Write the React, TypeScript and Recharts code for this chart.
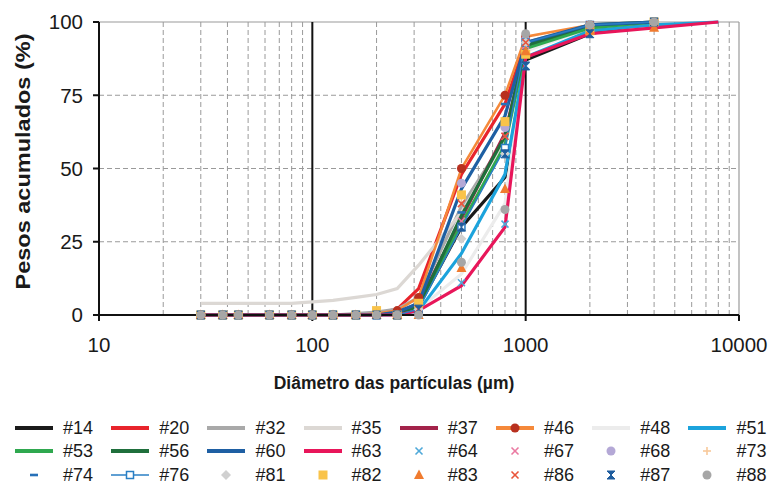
import React from 'react';
import { LineChart, Line, XAxis, YAxis, ReferenceLine, Legend, Label } from 'recharts';

const FONT = '"Liberation Sans", Arial, sans-serif';

// particle sizes (µm)
const sizes = [30, 38, 45, 63, 80, 100, 125, 160, 200, 250, 315, 500, 800, 1000, 2000, 4000, 8000];
const xTicks = [10, 100, 1000, 10000];
const yTicks = [0, 25, 50, 75, 100];
const minorX = [20, 30, 40, 50, 60, 70, 80, 90, 200, 300, 400, 500, 600, 700, 800, 900, 2000, 3000, 4000, 5000, 6000, 7000, 8000, 9000];
const majorX = [100, 1000];
const minorY = [25, 50, 75];

// cumulative weights (%) per sample
const s14 = [0, 0, 0, 0, 0, 0, 0, 0, 0, 0.5, 3, 30, 47, 87, 96, 100, null];
const s20 = [0, 0, 0, 0, 0, 0, 0, 0, 0.5, 2, 9, 48, 72, 93, 98, 100, null];
const s32 = [0, 0, 0, 0, 0, 0, 0, 0.5, 1, 2, 6, 37, 60, 93, 99, 100, null];
const s35 = [4, 4, 4, 4, 4, 4.5, 5, 6, 7, 9, 17, 35, 60, 92, 99, 100, null];
const s37 = [0, 0, 0, 0, 0, 0, 0, 0, 0, 0.5, 4, 33, 62, 91, 98, 100, null];
const s46 = [0, 0, 0, 0, 0, 0, 0, 0, 0.5, 1.5, 6, 50, 75, 95, 99, 100, null];
const s48 = [0, 0, 0, 0, 0, 0, 0, 0, 0, 0, 2, 14, 38, 90, 98, 100, null];
const s51 = [0, 0, 0, 0, 0, 0, 0, 0, 0, 0, 1.5, 21, 48, 88, 97, 99, 100];
const s53 = [0, 0, 0, 0, 0, 0, 0, 0, 0, 0.5, 3, 31, 58, 91, 98, 100, null];
const s56 = [0, 0, 0, 0, 0, 0, 0, 0, 0, 0.5, 3, 34, 61, 92, 99, 100, null];
const s60 = [0, 0, 0, 0, 0, 0, 0, 0, 0, 1, 4, 43, 68, 93, 99, 100, null];
const s63 = [0, 0, 0, 0, 0, 0, 0, 0, 0, 0, 1.5, 10, 30, 88, 96, 98, 100];
const s64 = [0, 0, 0, 0, 0, 0, 0, 0, 0, 0, 0, 11, 31, 85, 97, 100, null];
const s67 = [0, 0, 0, 0, 0, 0, 0, 0, 0, 0, 2, 32, 61, 92, 98, 100, null];
const s68 = [0, 0, 0, 0, 0, 0, 0, 0, 0, 0, 3, 45, 64, 94, 99, 100, null];
const s73 = [0, 0, 0, 0, 0, 0, 0, 0, 0, 0, 3, 40, 66, 90, 98, 100, null];
const s74 = [0, 0, 0, 0, 0, 0, 0, 0, 0, 0, 3, 35, 72, 93, 99, 100, null];
const s76 = [0, 0, 0, 0, 0, 0, 0, 0, 0, 0, 2, 30, 57, 93, 99, 100, null];
const s81 = [0, 0, 0, 0, 0, 0, 0, 0, 0, 0, 2, 26, 55, 93, 99, 100, null];
const s82 = [0, 0, 0, 0, 0, 0, 0, 0, 1.5, 0, 4, 41, 66, 89, 97, 100, null];
const s83 = [0, 0, 0, 0, 0, 0, 0, 0, 0, 0, 0, 16, 43, 90, 97, 98, null];
const s86 = [0, 0, 0, 0, 0, 0, 0, 0, 0, 0, 2, 38, 61, 93, 99, 100, null];
const s87 = [0, 0, 0, 0, 0, 0, 0, 0, 0, 0, 2, 30, 55, 85, 96, 100, null];
const s88 = [0, 0, 0, 0, 0, 0, 0, 0, 0, 0, 0, 18, 36, 96, 99, 100, null];

type Shape = 'none' | 'circle' | 'x' | 'plus' | 'dash' | 'square' | 'squareOpen' | 'diamond' | 'triangle' | 'hourglass';

interface SeriesDef {
  key: string;
  name: string;
  values: (number | null)[];
  color: string;
  line: boolean;
  width: number;
  shape: Shape;
  markerColor?: string;
}

const series: SeriesDef[] = [
  { key: 's14', name: '#14', values: s14, color: '#1a1a1a', line: true, width: 3.2, shape: 'none' },
  { key: 's20', name: '#20', values: s20, color: '#e8242c', line: true, width: 3.2, shape: 'none' },
  { key: 's32', name: '#32', values: s32, color: '#a9a9a9', line: true, width: 3.2, shape: 'none' },
  { key: 's35', name: '#35', values: s35, color: '#dcd8d4', line: true, width: 3.2, shape: 'none' },
  { key: 's37', name: '#37', values: s37, color: '#a3234a', line: true, width: 3.2, shape: 'none' },
  { key: 's46', name: '#46', values: s46, color: '#f5893a', line: true, width: 2.5, shape: 'circle', markerColor: '#b8301f' },
  { key: 's48', name: '#48', values: s48, color: '#ececec', line: true, width: 3.2, shape: 'none' },
  { key: 's51', name: '#51', values: s51, color: '#1ca3dc', line: true, width: 3.2, shape: 'none' },
  { key: 's53', name: '#53', values: s53, color: '#2fa84f', line: true, width: 3.2, shape: 'none' },
  { key: 's56', name: '#56', values: s56, color: '#1f6f3c', line: true, width: 3.2, shape: 'none' },
  { key: 's60', name: '#60', values: s60, color: '#1e5fa3', line: true, width: 3.2, shape: 'none' },
  { key: 's63', name: '#63', values: s63, color: '#e8165a', line: true, width: 3.2, shape: 'none' },
  { key: 's64', name: '#64', values: s64, color: '#4fa9d9', line: false, width: 0, shape: 'x' },
  { key: 's67', name: '#67', values: s67, color: '#ea7aa2', line: false, width: 0, shape: 'x' },
  { key: 's68', name: '#68', values: s68, color: '#b4a8d6', line: false, width: 0, shape: 'circle' },
  { key: 's73', name: '#73', values: s73, color: '#f8c99a', line: false, width: 0, shape: 'plus' },
  { key: 's74', name: '#74', values: s74, color: '#2670b8', line: false, width: 0, shape: 'dash' },
  { key: 's76', name: '#76', values: s76, color: '#2a7fc4', line: true, width: 1.5, shape: 'squareOpen' },
  { key: 's81', name: '#81', values: s81, color: '#d0d0d0', line: false, width: 0, shape: 'diamond' },
  { key: 's82', name: '#82', values: s82, color: '#f9c34a', line: false, width: 0, shape: 'square' },
  { key: 's83', name: '#83', values: s83, color: '#f07b2f', line: false, width: 0, shape: 'triangle' },
  { key: 's86', name: '#86', values: s86, color: '#e9553b', line: false, width: 0, shape: 'x' },
  { key: 's87', name: '#87', values: s87, color: '#1f5d9e', line: false, width: 0, shape: 'hourglass' },
  { key: 's88', name: '#88', values: s88, color: '#a6a6a6', line: false, width: 0, shape: 'circle' },
];

const data = sizes.map((d, i) => {
  const row: Record<string, number | null> = { d };
  series.forEach((s) => {
    row[s.key] = s.values[i];
  });
  return row;
});

function marker(shape: Shape, color: string, cx: number, cy: number) {
  switch (shape) {
    case 'circle':
      return <circle cx={cx} cy={cy} r={4.5} fill={color} />;
    case 'x':
      return (
        <g stroke={color} strokeWidth={1.6}>
          <line x1={cx - 3.5} y1={cy - 3.5} x2={cx + 3.5} y2={cy + 3.5} />
          <line x1={cx - 3.5} y1={cy + 3.5} x2={cx + 3.5} y2={cy - 3.5} />
        </g>
      );
    case 'plus':
      return (
        <g stroke={color} strokeWidth={1.6}>
          <line x1={cx - 4} y1={cy} x2={cx + 4} y2={cy} />
          <line x1={cx} y1={cy - 4} x2={cx} y2={cy + 4} />
        </g>
      );
    case 'dash':
      return <rect x={cx - 4} y={cy - 1.3} width={8} height={2.6} fill={color} />;
    case 'square':
      return <rect x={cx - 4.5} y={cy - 4.5} width={9} height={9} fill={color} />;
    case 'squareOpen':
      return <rect x={cx - 3.5} y={cy - 3.5} width={7} height={7} fill="#fff" stroke={color} strokeWidth={1.5} />;
    case 'diamond':
      return <polygon points={`${cx},${cy - 5} ${cx + 5},${cy} ${cx},${cy + 5} ${cx - 5},${cy}`} fill={color} />;
    case 'triangle':
      return <polygon points={`${cx},${cy - 5.5} ${cx + 5},${cy + 4} ${cx - 5},${cy + 4}`} fill={color} />;
    case 'hourglass':
      return <polygon points={`${cx - 4},${cy - 4} ${cx + 4},${cy - 4} ${cx - 4},${cy + 4} ${cx + 4},${cy + 4}`} fill={color} stroke={color} strokeWidth={1} />;
    default:
      return null;
  }
}

const makeDot = (s: SeriesDef) => (p: any) => {
  const { cx, cy, index, value } = p;
  if (s.shape === 'none' || value == null || cx == null || cy == null || isNaN(cx) || isNaN(cy)) {
    return <g key={`${s.key}-${index}`} />;
  }
  return <g key={`${s.key}-${index}`}>{marker(s.shape, s.markerColor || s.color, cx, cy)}</g>;
};

const LegendBox = () => (
  <div style={{ position: 'relative', width: 770, height: 80, fontFamily: FONT, fontSize: 18, color: '#1a1a1a' }}>
    {series.map((s, i) => {
      const col = i % 8;
      const row = Math.floor(i / 8);
      const left = 15 + col * 96.2;
      const top = 24.5 + row * 23.5 - 8;
      return (
        <div key={s.key} style={{ position: 'absolute', left, top, height: 16, display: 'flex', alignItems: 'center', whiteSpace: 'nowrap' }}>
          <svg width={38} height={16} style={{ display: 'block' }}>
            {s.line && <line x1={0} y1={8} x2={38} y2={8} stroke={s.color} strokeWidth={s.width === 1.5 ? 1.5 : 4} />}
            {s.shape !== 'none' && marker(s.shape, s.markerColor || s.color, 19, 8)}
          </svg>
          <span style={{ marginLeft: 10, lineHeight: '16px', height: 16 }}>{s.name}</span>
        </div>
      );
    })}
  </div>
);

const YTitle = (props: any) => {
  const vb = props.viewBox || { x: 0, y: 22, width: 99, height: 293 };
  const cx = vb.x + 23;
  const cy = vb.y + vb.height / 2 - 7;
  return (
    <text x={cx} y={cy} transform={`rotate(-90 ${cx} ${cy})`} textAnchor="middle" dominantBaseline="central"
      fontFamily={FONT} fontWeight="bold" fontSize={20} fill="#1a1a1a" textLength={256} lengthAdjust="spacingAndGlyphs">
      Pesos acumulados (%)
    </text>
  );
};

const XTitle = (props: any) => {
  const vb = props.viewBox || { x: 99, y: 315, width: 640, height: 88 };
  const cx = vb.x + vb.width / 2 - 25;
  const cy = vb.y + 74;
  return (
    <text x={cx} y={cy} textAnchor="middle" fontFamily={FONT} fontWeight="bold" fontSize={17.5} fill="#1a1a1a">
      Diâmetro das partículas (µm)
    </text>
  );
};

export default function App() {
  return (
    <div style={{ position: 'absolute', left: 0, top: 0, width: 770, height: 483, background: '#fff' }}>
      <LineChart width={770} height={483} data={data} margin={{ top: 22, right: 31, left: 0, bottom: 0 }}>
        {minorX.map((v) => (
          <ReferenceLine key={`gx${v}`} x={v} stroke="#9a9a9a" strokeDasharray="5 3" strokeWidth={1} />
        ))}
        {minorY.map((v) => (
          <ReferenceLine key={`gy${v}`} y={v} stroke="#9a9a9a" strokeDasharray="5 3" strokeWidth={1} />
        ))}
        <ReferenceLine y={100} stroke="#9a9a9a" strokeWidth={1.2} />
        <ReferenceLine x={10000} stroke="#9a9a9a" strokeWidth={1.2} />
        {majorX.map((v) => (
          <ReferenceLine key={`mx${v}`} x={v} stroke="#111" strokeWidth={2} />
        ))}
        <XAxis
          dataKey="d"
          type="number"
          scale="log"
          domain={[10, 10000]}
          ticks={xTicks}
          interval={0}
          allowDataOverflow
          height={88}
          tickSize={6}
          tickMargin={16}
          axisLine={{ stroke: '#111', strokeWidth: 2 }}
          tickLine={{ stroke: '#111', strokeWidth: 2 }}
          tick={{ fontSize: 20.5, fill: '#1a1a1a', fontFamily: FONT }}
        >
          <Label content={<XTitle />} />
        </XAxis>
        <YAxis
          type="number"
          domain={[0, 100]}
          ticks={yTicks}
          interval={0}
          width={99}
          tickSize={6}
          tickMargin={10}
          axisLine={{ stroke: '#111', strokeWidth: 2 }}
          tickLine={{ stroke: '#111', strokeWidth: 2 }}
          tick={{ fontSize: 20.5, fill: '#1a1a1a', fontFamily: FONT }}
        >
          <Label content={<YTitle />} />
        </YAxis>
        {series.map((s) => (
          <Line
            key={s.key}
            dataKey={s.key}
            name={s.name}
            type="linear"
            stroke={s.line ? s.color : 'none'}
            strokeWidth={s.line ? s.width : 0}
            dot={makeDot(s)}
            activeDot={false}
            connectNulls={false}
            isAnimationActive={false}
            legendType="none"
          />
        ))}
        <Legend
          verticalAlign="bottom"
          content={() => <LegendBox />}
          wrapperStyle={{ position: 'absolute', left: 0, top: 403, width: 770, height: 80 }}
        />
      </LineChart>
    </div>
  );
}
